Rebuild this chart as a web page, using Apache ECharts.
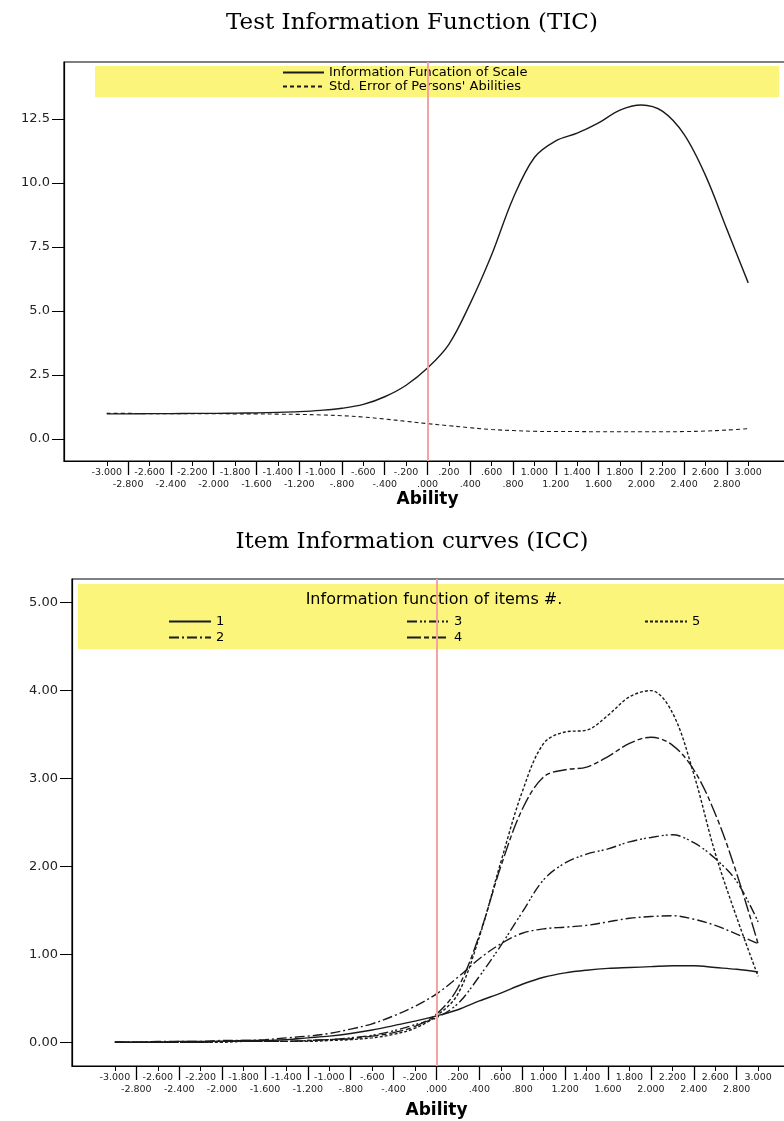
<!DOCTYPE html>
<html>
<head>
<meta charset="utf-8">
<script src="https://cdn.jsdelivr.net/npm/echarts@6/dist/echarts.min.js"></script>
<style>
  html, body { margin: 0; padding: 0; background: #fff; }
  #miGrafica { width: 784px; height: 1121px; }
</style>
</head>
<body>
<div id="miGrafica"></div>
<script>
// Ability points (x axis) and curve values

var ability = [-3.0, -2.8, -2.6, -2.4, -2.2, -2.0, -1.8, -1.6, -1.4, -1.2, -1.0, -0.8, -0.6, -0.4, -0.2, 0.0,
    0.2, 0.4, 0.6, 0.8, 1.0, 1.2, 1.4, 1.6, 1.8, 2.0, 2.2, 2.4, 2.6, 2.8, 3.0];

// top chart
var infoScale = [0.98, 0.98, 0.99, 0.99, 1.00, 1.00, 1.01, 1.02, 1.04, 1.07, 1.12, 1.20, 1.35, 1.65, 2.10, 2.77,
    3.70, 5.30, 7.20, 9.40, 11.00, 11.65, 11.95, 12.35, 12.85, 13.05, 12.80, 11.90, 10.30, 8.20, 6.10];
var stdError = [1.00, 1.00, 0.99, 0.99, 0.99, 0.99, 0.98, 0.98, 0.97, 0.96, 0.94, 0.91, 0.86, 0.78, 0.69, 0.60,
    0.52, 0.44, 0.37, 0.33, 0.30, 0.29, 0.29, 0.28, 0.28, 0.28, 0.28, 0.29, 0.31, 0.35, 0.40];

// bottom chart, items 1..5
var item1 = [0.00, 0.00, 0.00, 0.01, 0.01, 0.01, 0.02, 0.02, 0.03, 0.05, 0.07, 0.10, 0.14, 0.19, 0.24, 0.30,
    0.37, 0.47, 0.56, 0.66, 0.74, 0.79, 0.82, 0.84, 0.85, 0.86, 0.87, 0.87, 0.85, 0.83, 0.80];
var item2 = [0.00, 0.00, 0.01, 0.01, 0.01, 0.02, 0.02, 0.03, 0.05, 0.07, 0.10, 0.15, 0.21, 0.30, 0.41, 0.55,
    0.74, 0.95, 1.12, 1.24, 1.29, 1.31, 1.33, 1.37, 1.41, 1.43, 1.44, 1.40, 1.33, 1.23, 1.12];
var item3 = [0.00, 0.00, 0.00, 0.00, 0.00, 0.01, 0.01, 0.01, 0.01, 0.02, 0.03, 0.05, 0.08, 0.13, 0.20, 0.28,
    0.44, 0.75, 1.10, 1.48, 1.85, 2.04, 2.14, 2.20, 2.28, 2.33, 2.36, 2.27, 2.09, 1.83, 1.37];
var item4 = [0.00, 0.00, 0.00, 0.00, 0.00, 0.01, 0.01, 0.01, 0.01, 0.02, 0.03, 0.04, 0.07, 0.11, 0.18, 0.32,
    0.62, 1.22, 2.00, 2.65, 3.02, 3.10, 3.13, 3.25, 3.40, 3.47, 3.38, 3.10, 2.60, 1.92, 1.12];
var item5 = [0.00, 0.00, 0.00, 0.00, 0.00, 0.00, 0.01, 0.01, 0.01, 0.01, 0.02, 0.03, 0.05, 0.09, 0.16, 0.30,
    0.55, 1.20, 2.05, 2.85, 3.40, 3.53, 3.55, 3.72, 3.93, 4.00, 3.75, 3.05, 2.15, 1.42, 0.75];

var topTicks = [0, 2.5, 5, 7.5, 10, 12.5];
var bottomTicks = [0, 1, 2, 3, 4, 5];

var infoName = 'Information Funcation of Scale';
var seName = "Std. Error of Persons' Abilities";
var itemNames = ['1', '2', '3', '4', '5'];

// SPSS style labels: -.200, .000, 1.000
function spss(v) {
    var s = Math.abs(v).toFixed(3);
    if (s.charAt(0) === '0') s = s.slice(1);
    return (v < -1e-9 ? '-' : '') + s;
}

// staggered labels: even ticks on first row, odd ticks on second row
var rowOne = ability.filter(function (v, i) { return i % 2 === 0; });
var rowTwo = ability.filter(function (v, i) { return i % 2 === 1; });

function pairs(ys) {
    return ability.map(function (x, i) { return [x, ys[i]]; });
}

var sans = 'DejaVu Sans';
var serif = 'DejaVu Serif';
var ink = '#1a1a1a';
var pink = '#f4a3a3';

function xAxes(gridIndex, nameGap) {
    var base = {
        gridIndex: gridIndex,
        type: 'value',
        position: 'bottom',
        min: -3.4,
        max: 3.4,
        splitLine: { show: false }
    };
    return [
        Object.assign({}, base, {
            axisLine: { show: true, onZero: false, lineStyle: { color: '#000', width: 1.2 } },
            axisTick: { show: true, customValues: rowOne, length: 5, lineStyle: { color: '#000' } },
            axisLabel: { customValues: rowOne, formatter: spss, margin: 7, fontSize: 9.5, fontFamily: sans, color: '#222' }
        }),
        Object.assign({}, base, {
            axisLine: { show: false, onZero: false },
            axisTick: { show: true, customValues: rowTwo, length: 14, lineStyle: { color: '#000', width: 1.3 } },
            axisLabel: { customValues: rowTwo, formatter: spss, margin: 19, fontSize: 9.5, fontFamily: sans, color: '#222' },
            name: 'Ability',
            nameLocation: 'middle',
            nameGap: nameGap,
            nameTextStyle: { fontSize: 17, fontWeight: 'bold', fontFamily: sans, color: '#000' }
        })
    ];
}

function zeroLine() {
    return {
        silent: true,
        symbol: 'none',
        label: { show: false },
        lineStyle: { color: pink, width: 2, type: 'solid' },
        data: [{ xAxis: 0 }]
    };
}

function curve(name, ys, xi, yi, dash, extra) {
    return Object.assign({
        name: name,
        type: 'line',
        xAxisIndex: xi,
        yAxisIndex: yi,
        data: pairs(ys),
        smooth: 0.35,
        showSymbol: false,
        symbol: 'none',
        lineStyle: { color: ink, width: 1.4, type: dash },
        itemStyle: { color: ink }
    }, extra || {});
}

function legendBox(names, left, top) {
    return {
        data: names,
        orient: 'vertical', left: left, top: top,
        padding: 0,
        itemWidth: 42, itemHeight: 14, itemGap: 3,
        itemStyle: { opacity: 0 },
        textStyle: { fontSize: 13, fontFamily: sans, color: '#000' }
    };
}

function heading(text, x, y, size, family) {
    return {
        type: 'text', z: 5, x: x, y: y,
        style: { text: text, fill: '#000', font: size + 'px "' + family + '"', align: 'center', verticalAlign: 'middle' }
    };
}

var dom = document.getElementById('miGrafica');
var myChart = echarts.init(dom, null, { renderer: 'canvas' });

var option = {
    backgroundColor: '#fff',
    animation: false,
    graphic: [
        { type: 'rect', z: 1, shape: { x: 95, y: 66, width: 684, height: 31 }, style: { fill: '#fbf57c' } },
        { type: 'rect', z: 1, shape: { x: 78, y: 584, width: 720, height: 65 }, style: { fill: '#fbf57c' } },
        heading('Test Information Function (TIC)', 412, 23, 23, serif),
        heading('Item Information curves (ICC)', 412, 542, 23, serif),
        heading('Information function of items #.', 434, 600, 16, sans)
    ],
    legend: [
        Object.assign(legendBox([infoName, seName], 282, 66), { itemWidth: 41, itemGap: 1 }),
        legendBox(['1', '2'], 168, 615),
        legendBox(['3', '4'], 406, 615),
        legendBox(['5'], 644, 615)
    ],
    grid: [
        { left: 64, top: 62, width: 727, height: 399, outerBoundsMode: 'none', show: true, borderColor: '#000', borderWidth: 1.2, backgroundColor: '#fff' },
        { left: 72, top: 579, width: 729, height: 487, outerBoundsMode: 'none', show: true, borderColor: '#000', borderWidth: 1.2, backgroundColor: '#fff' }
    ],
    xAxis: xAxes(0, 27).concat(xAxes(1, 36)),
    yAxis: [
        {
            gridIndex: 0, type: 'value', min: -0.86, max: 14.73,
            splitLine: { show: false },
            axisLine: { show: true, onZero: false, lineStyle: { color: '#000', width: 1.2 } },
            axisTick: { show: true, customValues: topTicks, length: 12, lineStyle: { color: '#000' } },
            axisLabel: {
                customValues: topTicks, margin: 14, fontSize: 13, fontFamily: sans, color: '#222',
                formatter: function (v) { return v.toFixed(1); }
            }
        },
        {
            gridIndex: 1, type: 'value', min: -0.27, max: 5.27,
            splitLine: { show: false },
            axisLine: { show: true, onZero: false, lineStyle: { color: '#000', width: 1.2 } },
            axisTick: { show: true, customValues: bottomTicks, length: 12, lineStyle: { color: '#000' } },
            axisLabel: {
                customValues: bottomTicks, margin: 14, fontSize: 13, fontFamily: sans, color: '#222',
                formatter: function (v) { return v.toFixed(2); }
            }
        }
    ],
    series: [
        curve(infoName, infoScale, 0, 0, 'solid', { markLine: zeroLine() }),
        curve(seName, stdError, 0, 0, [4, 3], { lineStyle: { color: ink, width: 1.1, type: [4, 3] } }),
        curve(itemNames[0], item1, 2, 1, 'solid', { markLine: zeroLine() }),
        curve(itemNames[1], item2, 2, 1, [10, 3, 2, 3]),
        curve(itemNames[2], item3, 2, 1, [10, 3, 2, 2, 2, 3]),
        curve(itemNames[3], item4, 2, 1, [14, 3, 5, 3]),
        curve(itemNames[4], item5, 2, 1, [3, 2])
    ]
};

if (option && typeof option === 'object') {
    myChart.setOption(option);
}

window.addEventListener('resize', myChart.resize);
</script>
</body>
</html>
